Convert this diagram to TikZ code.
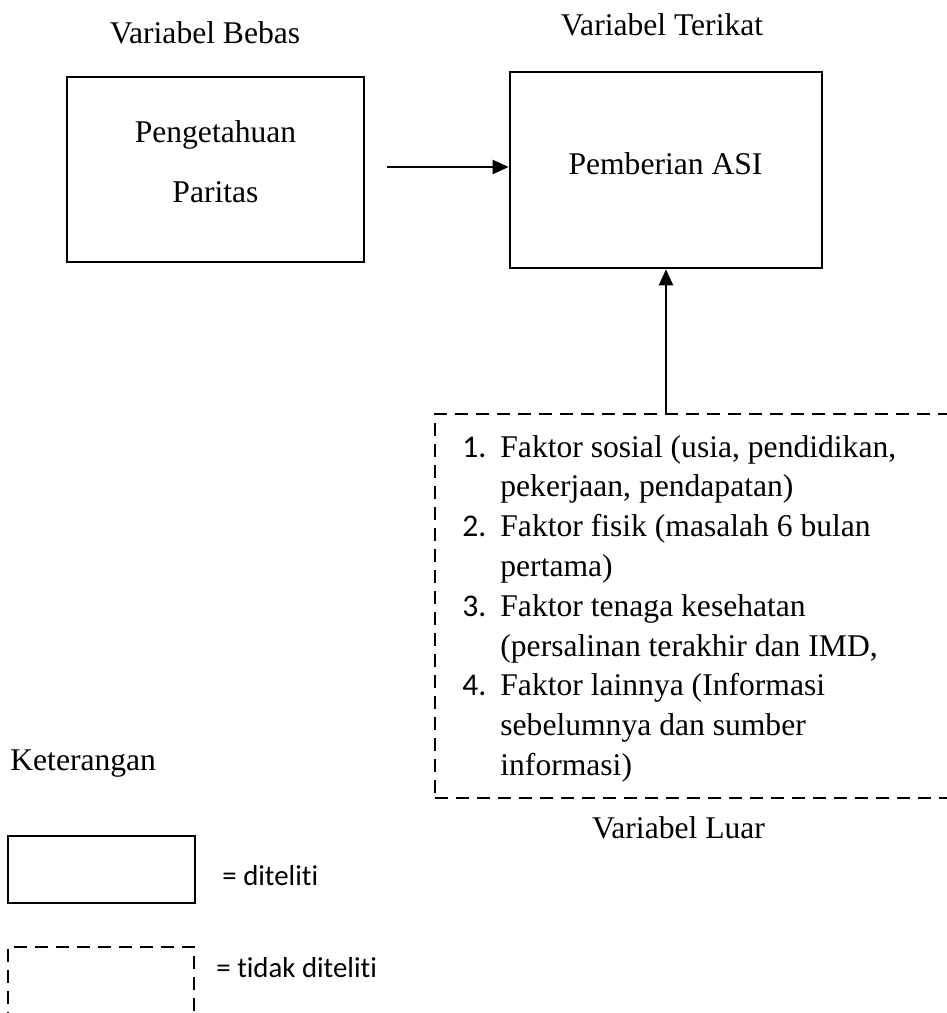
\documentclass[tikz,border=0pt]{standalone}
\usepackage{fontspec}
\setmainfont{Liberation Serif}
\newfontfamily\calibri[Ligatures=NoCommon]{Carlito}
\usetikzlibrary{arrows.meta}

\begin{document}
\begin{tikzpicture}[x=0.5pt,y=-0.5pt,
    kotak/.style={draw,line width=1.3pt,inner sep=0pt},
    putus/.style={draw,line width=1.1pt,inner sep=0pt,dash pattern=on 6.5pt off 4pt},
    panah/.style={-{Triangle[length=8pt,width=7pt]},line width=1.1pt},
    teks/.style={inner sep=0pt,anchor=base,font=\fontsize{15.8}{19.9}\selectfont},
    ket/.style={inner sep=0pt,anchor=base west,font=\calibri\fontsize{14.4}{17}\selectfont}]
        \useasboundingbox (0,0) rectangle (947,1013);
        \clip (0,0) rectangle (947,1013);

        %judul
        \node[teks] (jbebas) at (205,43) {Variabel Bebas};
        \node[teks] (jterikat) at (662,35) {Variabel Terikat};

        % kotak bebas dan terikat
        \node[kotak,minimum width=148.5pt,minimum height=92.5pt] (bebas) at (215.5,169.5) {};
        \node[teks] (tahu) at (215.5,142) {Pengetahuan};
        \node[teks] (paritas) at (215.5,202) {Paritas};
        \node[kotak,minimum width=156pt,minimum height=98pt] (asi) at (666,170) {};
        \node[teks] (tasi) at (665.5,174) {Pemberian ASI};

        % variabel luar
        \node[putus,minimum width=285pt,minimum height=192pt] (luar) at (720,606) {};
        \node[teks,anchor=base west] (faktor) at (462,457) {%
            \begin{tabular}[t]{@{}p{19pt}@{}l@{}}
            {\calibri 1.} & Faktor sosial (usia, pendidikan,\\
                          & pekerjaan, pendapatan)\\
            {\calibri 2.} & Faktor fisik (masalah 6 bulan\\
                          & pertama)\\
            {\calibri 3.} & Faktor tenaga kesehatan\\
                          & (persalinan terakhir dan IMD,\\
            {\calibri 4.} & Faktor lainnya (Informasi\\
                          & sebelumnya dan sumber\\
                          & informasi)
            \end{tabular}};
        \node[teks] (jluar) at (678.5,838) {Variabel Luar};

        % panah
        \coordinate (awal) at (387,167);
        \draw[panah] (awal) -- (awal -| asi.west);
        \draw[panah] (asi.south |- luar.north) -- (asi.south);

        %keterangan
        \node[teks,anchor=base west] (jket) at (10,770) {Keterangan};
        \node[kotak,minimum width=93.5pt,minimum height=33.5pt] (kditeliti) at (101.5,869.5) {};
        \node[ket] (tditeliti) at (222,885) {= diteliti};
        \node[putus,line width=1.4pt,minimum width=93pt,minimum height=33.5pt] (ktidak) at (101,980.5) {};
        \node[ket] (ttidak) at (216,977) {= tidak diteliti};
    \end{tikzpicture}
\end{document}
